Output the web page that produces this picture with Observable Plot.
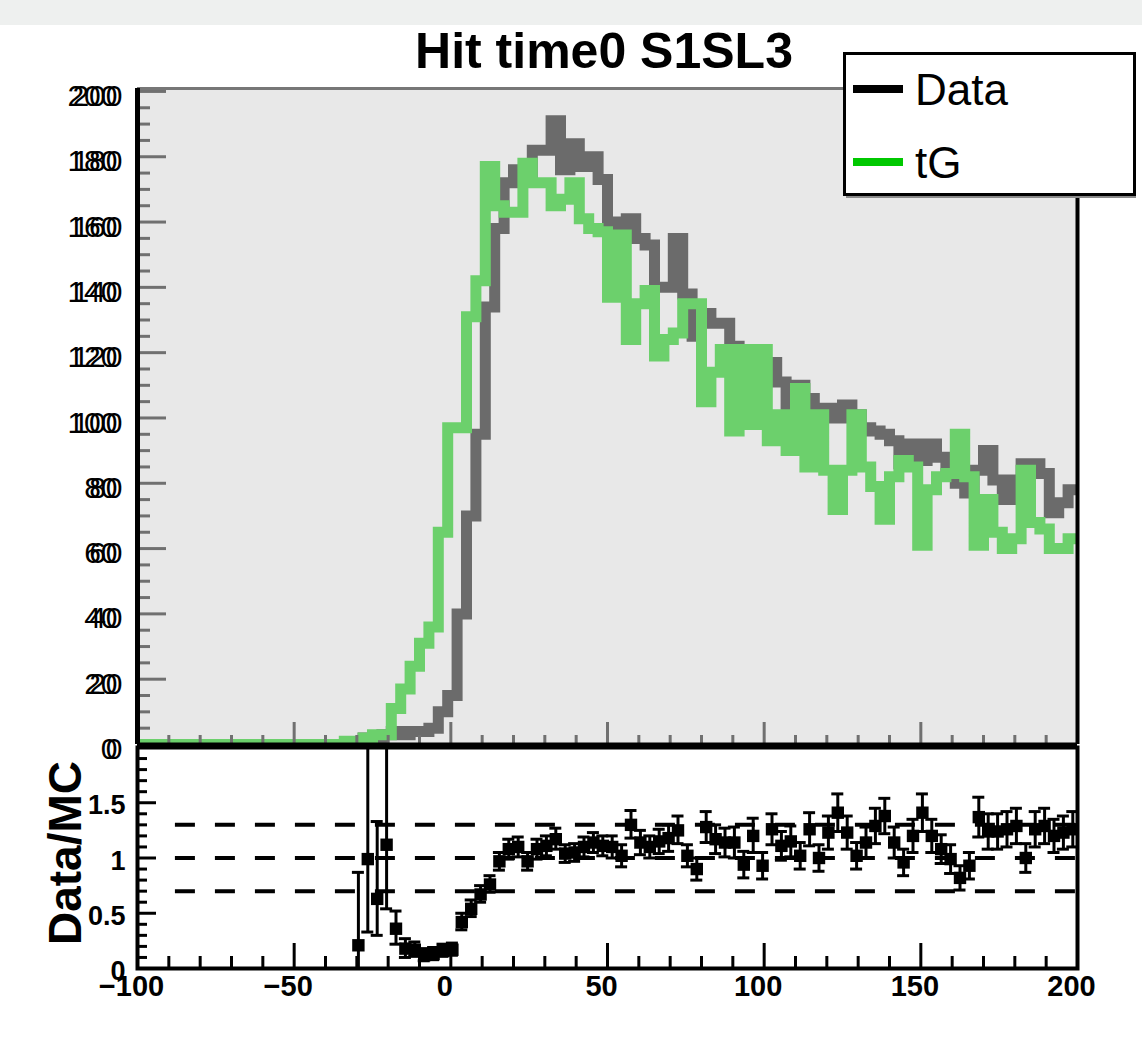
<!DOCTYPE html>
<html>
<head>
<meta charset="utf-8">
<script src="https://cdn.jsdelivr.net/npm/d3@7"></script>
<script src="https://cdn.jsdelivr.net/npm/@observablehq/plot@0.6"></script>
<style>
  body { margin: 0; background: #ffffff; }
  #wrap { position: relative; width: 1142px; height: 1047px; overflow: hidden; font-family: "Liberation Sans", Arial, sans-serif; }
  #strip { position: absolute; left: 0; top: 0; width: 1142px; height: 25px; background: #eef0ef; }
  #top, #bottom { position: absolute; left: 0; }
  #top { top: 0; }
  #bottom { top: 746px; }
  #overlay { position: absolute; left: 0; top: 0; }
  svg { display: block; }
</style>
</head>
<body>
<div id="wrap">
  <div id="strip"></div>
  <div id="top"></div>
  <div id="bottom"></div>
</div>
<script>
// ---------------- data ----------------
const binLow = d3.range(-100, 200, 3);           // 100 bins of 3 ns, -100 .. 200

const dataCounts = [
  0,0,0,0,0,0,0,0,0,0,
  0,0,0,0,0,0,0,0,0,0,
  0,0,0,0.3,2,2,3,4,3,4,
  4,5,10,15,40,70,95,134,158,172,
  176,174,182,182,191,176,184,177,180,173,
  160,159,161,155,153,140,140,155,138,125,
  132,129,129,122,115,118,113,117,111,103,
  110,106,101,103,100,104,101,97,96,95,
  93,86,92,87,92,88,83,80,77,84,
  90,81,75,81,86,86,83,71,74,78
];

const tgCounts = [
  0,0,0,0,0,0,0,0,0,0,
  0,0,0,0,0,0,0,0,0,0,
  0,0,1,1,2,3,3,11,17,24,
  31,36,65,97,97,131,142,177,165,163,
  163,178,172,172,165,167,172,161,158,157,
  137,156,124,135,139,119,124,126,135,135,
  105,114,121,96,121,98,121,93,101,90,
  109,85,101,84,72,84,101,85,79,69,
  82,87,85,61,78,82,83,95,82,61,
  75,65,60,63,84,68,66,60,60,63
];

const ratio = [
  null,null,null,null,null,null,null,null,null,null,
  null,null,null,null,null,null,null,null,null,null,
  null,null,null,0.21,0.99,0.63,1.12,0.36,0.18,0.17,
  0.12,0.13,0.16,0.17,0.42,0.54,0.67,0.76,0.97,1.08,
  1.10,0.97,1.08,1.11,1.17,1.04,1.05,1.10,1.14,1.11,
  1.10,1.02,1.30,1.14,1.10,1.15,1.18,1.25,1.02,0.90,
  1.28,1.17,1.14,1.14,0.94,1.20,0.93,1.26,1.11,1.15,
  1.02,1.26,1.00,1.23,1.41,1.23,1.02,1.14,1.29,1.38,
  1.14,0.96,1.20,1.41,1.20,1.08,0.99,0.82,0.93,1.37,
  1.24,1.24,1.26,1.29,1.00,1.26,1.29,1.20,1.23,1.26
];

const ratioErrLow = [
  null,null,null,null,null,null,null,null,null,null,
  null,null,null,null,null,null,null,null,null,null,
  null,null,null,0.21,0.66,0.33,0.58,0.14,0.08,0.06,
  0.05,0.05,0.05,0.05,0.07,0.07,0.07,0.07,0.08,0.09,
  0.09,0.08,0.09,0.09,0.09,0.08,0.08,0.09,0.09,0.09,
  0.10,0.10,0.12,0.11,0.10,0.11,0.12,0.12,0.10,0.10,
  0.14,0.13,0.13,0.14,0.12,0.15,0.12,0.14,0.13,0.14,
  0.12,0.15,0.12,0.15,0.17,0.15,0.12,0.14,0.16,0.16,
  0.14,0.12,0.15,0.17,0.15,0.13,0.13,0.11,0.12,0.18,
  0.16,0.16,0.16,0.16,0.13,0.16,0.16,0.15,0.15,0.16
];

const ratioErrHigh = [
  null,null,null,null,null,null,null,null,null,null,
  null,null,null,null,null,null,null,null,null,null,
  null,null,null,0.66,1.30,0.70,1.20,0.16,0.09,0.07,
  0.06,0.06,0.06,0.06,0.08,0.08,0.08,0.08,0.08,0.09,
  0.09,0.08,0.09,0.09,0.10,0.08,0.08,0.09,0.09,0.09,
  0.10,0.10,0.13,0.11,0.10,0.11,0.12,0.13,0.10,0.10,
  0.14,0.13,0.13,0.14,0.12,0.16,0.12,0.14,0.13,0.14,
  0.12,0.15,0.12,0.15,0.17,0.15,0.12,0.14,0.16,0.16,
  0.14,0.12,0.15,0.17,0.15,0.13,0.13,0.11,0.12,0.18,
  0.16,0.16,0.16,0.16,0.13,0.16,0.16,0.15,0.15,0.16
];

const yTicksTop = [0, 20, 40, 60, 80, 100, 120, 140, 160, 180, 200];
const ratioTicks = [0, 0.5, 1, 1.5];
const ratioTickLabels = ["0", "0.5", "1", "1.5"];
const xTicks = [-100, -50, 0, 50, 100, 150, 200];
const xTickLabels = ["\u2212100", "\u221250", "0", "50", "100", "150", "200"];
const refLines = [0.7, 1, 1.3];
const legendItems = [
  {label: "Data", color: "#000000"},
  {label: "tG", color: "#00c800"}
];
const titleText = "Hit time0 S1SL3";
const ratioTitle = "Data/MC";

// ---------------- helpers ----------------
const W = 1142;
const X0 = -100, X1 = 200;
const frameW = 940;                        // px width of the frame
const ux = (X1 - X0) / frameW;             // data units per px along x
const YTOP = 200.9;
const uy = YTOP / 656;                     // counts per px (top panel)
const uyR = 2 / 221;                       // ratio units per px

function stepData(counts) {
  const pts = counts.map((v, i) => ({x: binLow[i], y: v}));
  pts.push({x: X1, y: counts[counts.length - 1]});
  return pts;
}
const yMajorTop = d3.range(0, 201, 20);
const yMinorTop = d3.range(0, 201, 5).filter(d => d % 20 !== 0);
const xMajor = d3.range(-100, 201, 50);
const xMinor = d3.range(-100, 201, 10).filter(d => d % 50 !== 0);
const rMajor = [0, 0.5, 1, 1.5, 2];
const rMinor = d3.range(0, 21, 1).map(d => d / 10).filter(d => Math.round(d * 10) % 5 !== 0);

const font = "Liberation Sans, Arial, Helvetica, sans-serif";
const tickGray = "#707070";
const histStyle = {x: "x", y: "y", curve: "step-after", strokeWidth: 11,
  strokeLinejoin: "miter", strokeMiterlimit: 4, strokeLinecap: "butt", clip: true};

// ---------------- top panel ----------------
const topPlot = Plot.plot({
  width: W, height: 746,
  marginLeft: 137, marginRight: 65, marginTop: 88, marginBottom: 2,
  x: {domain: [X0, X1], axis: null},
  y: {domain: [0, YTOP], axis: null},
  style: {background: "transparent", overflow: "visible", fontFamily: font, color: "black"},
  marks: [
    Plot.frame({fill: "#e8e8e8", stroke: "none"}),
    Plot.line(stepData(dataCounts), {...histStyle, stroke: "#6b6b6b"}),
    Plot.line(stepData(tgCounts), {...histStyle, stroke: "#6cd06c"}),
    // inward ticks (gray)
    Plot.ruleY(yMinorTop, {y: d => d, x1: X0, x2: X0 + 13 * ux, stroke: tickGray, strokeWidth: 3}),
    Plot.ruleY(yMajorTop, {y: d => d, x1: X0, x2: X0 + 29 * ux, stroke: tickGray, strokeWidth: 3}),
    Plot.ruleX(xMinor, {x: d => d, y1: 0, y2: 9 * uy, stroke: tickGray, strokeWidth: 3}),
    Plot.ruleX(xMajor, {x: d => d, y1: 0, y2: 22 * uy, stroke: tickGray, strokeWidth: 3}),
    // frame edges
    Plot.ruleY([YTOP], {y: d => d, stroke: "#777777", strokeWidth: 3}),
    Plot.ruleX([X1], {x: d => d, stroke: "black", strokeWidth: 4}),
    Plot.ruleX([X0], {x: d => d, stroke: "black", strokeWidth: 5}),
    Plot.ruleY([0], {y: d => d, stroke: "black", strokeWidth: 4}),
    // y labels (doubled, like the original rendering)
    Plot.text(yTicksTop, {frameAnchor: "left", y: d => d, text: d => String(d), textAnchor: "end",
      dx: -15, dy: 5, fontSize: 30, fill: "black"}),
    Plot.text(yTicksTop, {frameAnchor: "left", y: d => d, text: d => String(d), textAnchor: "end",
      dx: -20, dy: 5, fontSize: 30, fill: "black", ariaLabel: "ylabB"})
  ]
});
document.getElementById("top").appendChild(topPlot);
const gB = topPlot.querySelector('g[aria-label="ylabB"]');
if (gB) gB.setAttribute("letter-spacing", "-5");

// ---------------- ratio panel ----------------
const ratioPts = ratio.map((r, i) => r == null ? null : ({
  x: binLow[i] + 1.5, r,
  lo: Math.max(0, r - ratioErrLow[i]), hi: r + ratioErrHigh[i]
})).filter(d => d);
const cap = 6 * ux;

const ratioPlot = Plot.plot({
  width: W, height: 301,
  marginLeft: 137, marginRight: 65, marginTop: 1, marginBottom: 79,
  x: {domain: [X0, X1], axis: null},
  y: {domain: [0, 2], axis: null},
  style: {background: "transparent", overflow: "visible", fontFamily: font, color: "black"},
  marks: [
    Plot.frame({fill: "white", stroke: "none"}),
    Plot.ruleY(refLines, {y: d => d, x1: -87.9, x2: X1, stroke: "black", strokeWidth: 4, strokeDasharray: "20,20"}),
    Plot.ruleX(ratioPts, {x: "x", y1: "lo", y2: "hi", stroke: "black", strokeWidth: 3, clip: true}),
    Plot.ruleY(ratioPts, {y: "lo", x1: d => d.x - cap, x2: d => d.x + cap, stroke: "black", strokeWidth: 3, clip: true}),
    Plot.ruleY(ratioPts.filter(d => d.hi < 2), {y: "hi", x1: d => d.x - cap, x2: d => d.x + cap, stroke: "black", strokeWidth: 3, clip: true}),
    Plot.dot(ratioPts, {x: "x", y: "r", symbol: "square", r: 7, fill: "black", stroke: "none", clip: true}),
    // ticks
    Plot.ruleY(rMinor, {y: d => d, x1: X0, x2: X0 + 10 * ux, stroke: "black", strokeWidth: 3}),
    Plot.ruleY(rMajor, {y: d => d, x1: X0, x2: X0 + 19 * ux, stroke: "black", strokeWidth: 3}),
    Plot.ruleX(xMinor, {x: d => d, y1: 0, y2: 12 * uyR, stroke: "black", strokeWidth: 3}),
    Plot.ruleX(xMajor, {x: d => d, y1: 0, y2: 25 * uyR, stroke: "black", strokeWidth: 3}),
    Plot.frame({stroke: "black", strokeWidth: 4, fill: "none"}),
    // labels
    Plot.text(ratioTicks, {frameAnchor: "left", y: d => d, text: (d, i) => ratioTickLabels[i], textAnchor: "end",
      dx: -12, dy: 3, fontSize: 27, fontWeight: "bold", fill: "black"}),
    Plot.text(xTicks, {x: d => d, frameAnchor: "bottom", text: (d, i) => xTickLabels[i], textAnchor: "middle",
      dx: -6, dy: 27, fontSize: 29, fontWeight: "bold", fill: "black"}),
    Plot.text([ratioTitle], {frameAnchor: "left", text: d => d, rotate: -90, textAnchor: "middle", dx: -71, dy: -5,
      fontSize: 46, fontWeight: "bold", fill: "black"})
  ]
});
document.getElementById("bottom").appendChild(ratioPlot);

// ---------------- title and legend overlay ----------------
const ov = d3.select("#wrap").append("svg").attr("id", "overlay")
  .attr("width", W).attr("height", 1047)
  .style("font-family", font);
ov.append("text").attr("x", 604).attr("y", 68).attr("text-anchor", "middle")
  .attr("font-size", 50).attr("font-weight", "bold").text(titleText);

const lg = ov.append("g");
lg.append("rect").attr("x", 846).attr("y", 199 - 4).attr("width", 290).attr("height", 3).attr("fill", "#8a8a8a");
lg.append("rect").attr("x", 844.5).attr("y", 53.5).attr("width", 290).attr("height", 141)
  .attr("fill", "white").attr("stroke", "black").attr("stroke-width", 3);
const rows = lg.selectAll("g.row").data(legendItems).join("g").attr("class", "row")
  .attr("transform", (d, i) => `translate(0, ${i * 73})`);
rows.append("line").attr("x1", 853).attr("x2", 903).attr("y1", 89).attr("y2", 89)
  .attr("stroke", d => d.color).attr("stroke-width", 8);
rows.append("text").attr("x", 915).attr("y", 105).attr("font-size", 44).text(d => d.label);
</script>
</body>
</html>
